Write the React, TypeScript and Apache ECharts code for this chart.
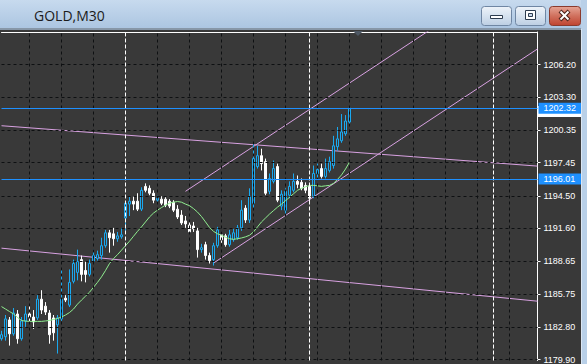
import React, { useEffect, useRef } from "react";
import * as echarts from "echarts";

const BAR_SLOTS = 135;
const categories = Array.from({ length: BAR_SLOTS }, (_, i) => String(i));

const opens = [
  1181.75, 1181.93, 1183.43, 1182.19, 1183.96, 1181.75, 1183.34, 1183.96, 1183.69, 1183.61,
  1185.28, 1184.66, 1184.05, 1183.61, 1182.99, 1183.52, 1185.37, 1184.75, 1186.87, 1187.67,
  1188.81, 1187.84, 1187.49, 1188.64, 1188.9, 1189.17, 1190.05, 1191.2, 1191.11, 1190.67,
  1190.84, 1192.52, 1193.76, 1194.02, 1194.02, 1193.31, 1195.34, 1195.17, 1194.73, 1194.11,
  1194.2, 1194.2, 1194.02, 1193.93, 1193.31, 1192.78, 1192.26, 1191.9, 1191.81, 1191.37,
  1189.7, 1190.14, 1189.17, 1188.81, 1190.05, 1191.02, 1190.93, 1190.14, 1190.58, 1190.76,
  1191.64, 1193.4, 1192.34, 1193.84, 1197.11, 1198.08, 1197.55, 1194.9, 1195.79, 1197.11,
  1193.58, 1193.22, 1194.55, 1194.99, 1195.79, 1195.7, 1195.43, 1195.34, 1194.46, 1196.49,
  1196.93, 1196.23, 1196.76, 1197.2, 1198.88, 1199.41, 1200.03, 1201.08,
];
const closes = [
  1182.11, 1183.52, 1182.19, 1184.05, 1181.75, 1183.34, 1183.96, 1183.69, 1183.25, 1185.28,
  1184.31, 1184.13, 1182.11, 1182.28, 1183.61, 1185.28, 1185.2, 1186.78, 1188.46, 1188.64,
  1187.49, 1187.49, 1188.46, 1189.17, 1189.25, 1190.05, 1191.2, 1190.76, 1190.67, 1190.93,
  1191.02, 1193.84, 1194.02, 1193.76, 1193.31, 1194.99, 1194.99, 1194.73, 1194.11, 1194.29,
  1193.84, 1193.67, 1193.58, 1193.22, 1192.61, 1192.08, 1191.99, 1191.28, 1191.55, 1189.7,
  1189.87, 1189.17, 1188.72, 1190.05, 1191.46, 1190.58, 1190.14, 1191.02, 1191.2, 1191.64,
  1193.22, 1192.34, 1194.46, 1197.82, 1198.08, 1197.37, 1194.73, 1196.05, 1196.93, 1194.11,
  1194.64, 1194.9, 1195.34, 1195.79, 1195.52, 1195.17, 1194.99, 1194.29, 1196.49, 1196.84,
  1196.23, 1196.93, 1197.55, 1198.96, 1199.58, 1200.2, 1201.17, 1202.32,
];
const lows = [
  1181.58, 1181.58, 1181.14, 1182.02, 1181.31, 1181.58, 1182.81, 1183.16, 1182.63, 1183.43,
  1183.96, 1183.87, 1181.31, 1181.58, 1180.43, 1183.34, 1185.02, 1184.58, 1186.69, 1186.96,
  1186.87, 1186.78, 1187.31, 1188.46, 1188.72, 1188.81, 1189.87, 1189.43, 1190.05, 1190.4,
  1190.67, 1191.37, 1192.7, 1193.22, 1193.14, 1193.14, 1194.81, 1194.55, 1193.84, 1193.84,
  1193.67, 1193.49, 1193.4, 1193.05, 1192.43, 1191.9, 1191.64, 1191.11, 1191.28, 1188.99,
  1189.43, 1188.81, 1188.46, 1188.28, 1189.87, 1190.31, 1189.96, 1189.96, 1190.4, 1190.58,
  1191.37, 1192.08, 1192.08, 1193.4, 1196.93, 1196.76, 1194.55, 1194.64, 1195.61, 1193.93,
  1193.22, 1192.78, 1194.29, 1194.81, 1195.17, 1194.99, 1194.73, 1194.02, 1194.29, 1195.87,
  1196.05, 1196.05, 1196.58, 1196.93, 1198.52, 1199.23, 1199.85, 1200.9,
];
const highs = [
  1182.46, 1183.87, 1183.69, 1184.49, 1184.31, 1183.69, 1184.66, 1184.84, 1184.31, 1185.64,
  1186.08, 1185.02, 1184.31, 1183.87, 1183.87, 1187.93, 1185.64, 1187.93, 1188.81, 1189.7,
  1189.17, 1188.64, 1188.81, 1189.7, 1189.61, 1190.76, 1191.46, 1191.46, 1191.64, 1191.28,
  1191.64, 1194.02, 1194.46, 1194.46, 1194.73, 1195.26, 1195.61, 1195.43, 1194.99, 1194.55,
  1194.46, 1194.37, 1194.2, 1194.11, 1193.67, 1193.22, 1192.7, 1192.34, 1192.17, 1191.64,
  1190.22, 1190.4, 1189.43, 1190.31, 1191.73, 1191.28, 1191.11, 1191.46, 1191.55, 1191.9,
  1194.11, 1193.67, 1195.17, 1199.14, 1198.96, 1198.7, 1197.82, 1196.49, 1197.64, 1197.37,
  1194.99, 1195.17, 1195.79, 1196.49, 1196.31, 1196.05, 1195.7, 1195.61, 1197.2, 1197.37,
  1197.37, 1197.82, 1197.99, 1199.85, 1200.64, 1201.79, 1201.7, 1202.4,
];
const maValues = [
  1184.62, 1184.4, 1184.18, 1183.96, 1183.65, 1183.38, 1183.32, 1183.3, 1183.3, 1183.3,
  1183.3, 1183.34, 1183.38, 1183.47, 1183.56, 1183.69, 1183.87, 1184.09, 1184.4, 1184.84,
  1185.2, 1185.55, 1185.9, 1186.34, 1186.78, 1187.27, 1187.84, 1188.46, 1188.9, 1189.25,
  1189.65, 1190.05, 1190.45, 1190.89, 1191.33, 1191.73, 1192.17, 1192.61, 1192.96, 1193.22,
  1193.45, 1193.67, 1193.84, 1193.93, 1193.99, 1193.93, 1193.76, 1193.62, 1193.36, 1193.05,
  1192.65, 1192.17, 1191.68, 1191.33, 1191.11, 1190.98, 1190.8, 1190.67, 1190.62, 1190.67,
  1190.74, 1190.84, 1190.98, 1191.28, 1191.73, 1192.17, 1192.52, 1192.87, 1193.18, 1193.49,
  1193.76, 1194.06, 1194.37, 1194.68, 1194.99, 1195.17, 1195.3, 1195.43, 1195.43, 1195.39,
  1195.34, 1195.39, 1195.43, 1195.61, 1195.96, 1196.36, 1196.89, 1197.51,
];

const priceTicks = [1206.2, 1203.3, 1200.35, 1197.45, 1194.5, 1191.6, 1188.65, 1185.75, 1182.8, 1179.9];
const bidPrice = 1202.32;
const askPrice = 1202.05;
const levelPrice = 1196.01;
const daySeparators = [31, 77, 123];
const gridBars = [7, 15, 23, 31, 39, 47, 55, 63, 71, 79, 87, 95, 103, 111, 119, 127];

const trendA = [[0, 1200.75], [134, 1197.15]];
const trendB = [[0, 1189.83], [134, 1185.1]];
const trendC = [[46, 1194.9], [134, 1215.63]];
const trendD = [[53, 1188.5], [134, 1207.6]];

const Y_MIN = 1179.81;
const Y_MAX = 1209.11;

const BG = "#393939";
const BULL = "#1aa9f0";
const PINK = "#d9a2e2";
const LINE_BLUE = "#1e90ff";
const GRID_COLOR = "#0e1012";
const AXIS_FONT = "Liberation Sans";

export default function App() {
  const ref = useRef<HTMLDivElement>(null);

  useEffect(() => {
    const chart = echarts.init(ref.current!, null, { renderer: "svg" });
    const candleData = opens.map((o, i) => [o, closes[i], lows[i], highs[i]]);

    const trend = (d: number[][]) => ({
      type: "line",
      data: d,
      symbol: "none",
      silent: true,
      z: 2,
      lineStyle: { color: PINK, width: 1 },
    });

    const priceLabel = {
      show: true,
      position: "end",
      distance: 1,
      backgroundColor: LINE_BLUE,
      color: "#ffffff",
      padding: [1, 6, 1, 5],
      fontSize: 9,
      fontFamily: AXIS_FONT,
      formatter: (p: any) => Number(p.value).toFixed(2),
    };

    const btnGrad = {
      type: "linear", x: 0, y: 0, x2: 0, y2: 1,
      colorStops: [
        { offset: 0, color: "#eef3f9" },
        { offset: 0.5, color: "#d6e2ef" },
        { offset: 1, color: "#bccee3" },
      ],
    };
    const closeGrad = {
      type: "linear", x: 0, y: 0, x2: 0, y2: 1,
      colorStops: [
        { offset: 0, color: "#e6a595" },
        { offset: 0.5, color: "#d0705d" },
        { offset: 1, color: "#c0432f" },
      ],
    };

    const chrome: any[] = [
      {
        type: "rect", z: 100, silent: true,
        shape: { x: 0, y: 0, width: 587, height: 29 },
        style: {
          fill: {
            type: "linear", x: 0, y: 0, x2: 0, y2: 1,
            colorStops: [
              { offset: 0, color: "#c7daee" },
              { offset: 1, color: "#abc5e1" },
            ],
          },
        },
      },
      { type: "rect", z: 100, silent: true, shape: { x: 0, y: 28, width: 587, height: 2 }, style: { fill: "#8797a8" } },
      { type: "rect", z: 100, silent: true, shape: { x: 581, y: 0, width: 6, height: 364 }, style: { fill: "#b9d0e8" } },
      { type: "rect", z: 101, silent: true, shape: { x: 581, y: 29, width: 1, height: 335 }, style: { fill: "#dbe7f4" } },
      {
        type: "text", z: 101, silent: true, x: 34, y: 15,
        style: { text: "GOLD,M30", fill: "#1b1b1b", font: "14px 'Open Sans'", verticalAlign: "middle" },
      },
      { type: "rect", z: 101, silent: true, shape: { x: 481.5, y: 6.5, width: 30, height: 19, r: 3 }, style: { fill: btnGrad, stroke: "#6f86a3", lineWidth: 1 } },
      { type: "rect", z: 102, silent: true, shape: { x: 490.5, y: 15.5, width: 12, height: 3 }, style: { fill: "#ffffff", stroke: "#2d3c4f", lineWidth: 1 } },
      { type: "rect", z: 101, silent: true, shape: { x: 515.5, y: 6.5, width: 30, height: 19, r: 3 }, style: { fill: btnGrad, stroke: "#6f86a3", lineWidth: 1 } },
      { type: "rect", z: 102, silent: true, shape: { x: 525.5, y: 10.5, width: 10, height: 9 }, style: { fill: "#ffffff", stroke: "#2d3c4f", lineWidth: 1 } },
      { type: "rect", z: 103, silent: true, shape: { x: 528.5, y: 13.5, width: 4, height: 3 }, style: { fill: "#c9d8ea", stroke: "#2d3c4f", lineWidth: 1 } },
      { type: "rect", z: 101, silent: true, shape: { x: 549.5, y: 6.5, width: 31, height: 19, r: 3 }, style: { fill: closeGrad, stroke: "#8a3a2d", lineWidth: 1 } },
      { type: "line", z: 102, silent: true, shape: { x1: 560, y1: 11, x2: 569, y2: 20 }, style: { stroke: "#4a2018", lineWidth: 4 } },
      { type: "line", z: 102, silent: true, shape: { x1: 569, y1: 11, x2: 560, y2: 20 }, style: { stroke: "#4a2018", lineWidth: 4 } },
      { type: "line", z: 103, silent: true, shape: { x1: 560.5, y1: 11.5, x2: 568.5, y2: 19.5 }, style: { stroke: "#ffffff", lineWidth: 2 } },
      { type: "line", z: 103, silent: true, shape: { x1: 568.5, y1: 11.5, x2: 560.5, y2: 19.5 }, style: { stroke: "#ffffff", lineWidth: 2 } },
      { type: "polygon", z: 101, silent: true, shape: { points: [[353, 31], [363, 31], [358, 36]] }, style: { fill: "#4d5763" } },
    ];

    const gridLine = { color: GRID_COLOR, type: [3, 3], width: 1, opacity: 1 };

    const option: any = {
      animation: false,
      backgroundColor: BG,
      grid: { left: 1.5, right: 49.5, top: 32, bottom: 0 },
      xAxis: {
        type: "category",
        data: categories,
        boundaryGap: false,
        position: "top",
        axisLine: { show: true, lineStyle: { color: "#ffffff", width: 1 } },
        axisTick: { show: false },
        axisLabel: { show: false },
        splitLine: { show: false },
      },
      yAxis: {
        type: "value",
        position: "right",
        min: Y_MIN,
        max: Y_MAX,
        axisLine: { show: true, lineStyle: { color: "#ffffff", width: 1 } },
        axisTick: { show: true, length: 3, customValues: priceTicks, lineStyle: { color: "#ffffff" } },
        axisLabel: {
          show: true,
          customValues: priceTicks,
          formatter: (v: number) => v.toFixed(2),
          color: "#ffffff",
          fontFamily: AXIS_FONT,
          fontSize: 9,
          margin: 6,
        },
        splitLine: { show: false },
      },
      series: [
        {
          type: "line",
          data: [],
          silent: true,
          z: 1,
          markLine: {
            silent: true,
            symbol: ["none", "none"],
            label: { show: false },
            emphasis: { disabled: true },
            animation: false,
            lineStyle: gridLine,
            data: [
              ...priceTicks.map((p) => ({ yAxis: p, lineStyle: gridLine })),
              ...gridBars.map((i) => ({ xAxis: i, lineStyle: gridLine })),
            ],
          },
        },
        {
          type: "line",
          data: [],
          silent: true,
          z: 1,
          markLine: {
            silent: true,
            symbol: ["none", "none"],
            label: { show: false },
            animation: false,
            data: daySeparators.map((i) => ({ xAxis: i, lineStyle: { color: "#ffffff", type: [4, 2], width: 1, opacity: 1 } })),
          },
        },
        {
          type: "line",
          data: [],
          silent: true,
          z: 5,
          markLine: {
            silent: true,
            symbol: ["none", "none"],
            animation: false,
            data: [
              { yAxis: bidPrice, lineStyle: { color: LINE_BLUE, width: 1, type: "solid", opacity: 1 }, label: priceLabel },
              { yAxis: levelPrice, lineStyle: { color: LINE_BLUE, width: 1, type: "solid", opacity: 1 }, label: priceLabel },
            ],
          },
        },
        trend(trendA),
        trend(trendB),
        trend(trendC),
        trend(trendD),
        {
          type: "candlestick",
          data: candleData,
          barWidth: 2,
          z: 3,
          silent: true,
          itemStyle: {
            color: BG,
            color0: "#ffffff",
            borderColor: BULL,
            borderColor0: "#ffffff",
            borderWidth: 1,
          },
        },
        {
          type: "line",
          data: maValues,
          symbol: "none",
          silent: true,
          z: 4,
          lineStyle: { color: "#90ee90", width: 1 },
        },
      ],
      graphic: chrome,
    };

    chart.setOption(option);

    // partially hidden ask-price tag below the bid tag, placed through the y scale
    const askY = chart.convertToPixel({ yAxisIndex: 0 }, askPrice) as number;
    chart.setOption({
      graphic: [
        ...chrome,
        {
          type: "rect", z: 0, silent: true,
          shape: { x: 538, y: Math.round(askY) - 5, width: 43, height: 11 },
          style: { fill: "#ffffff" },
        },
      ],
    });

    return () => chart.dispose();
  }, []);

  return (
    <div
      ref={ref}
      style={{ position: "fixed", left: 0, top: 0, width: 587, height: 364 }}
    />
  );
}
